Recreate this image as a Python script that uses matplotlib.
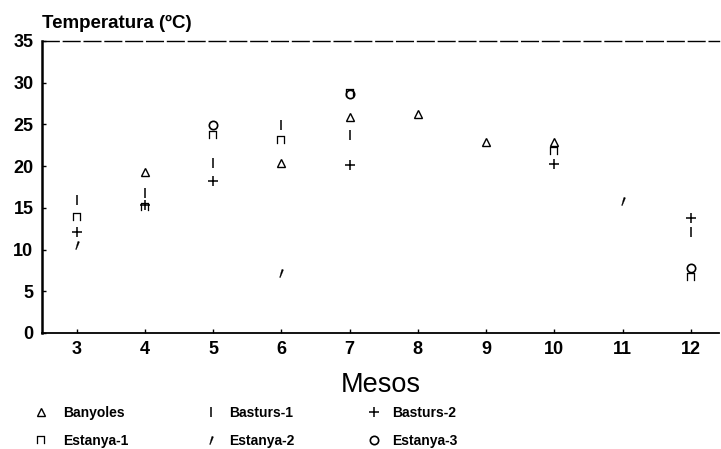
import matplotlib
matplotlib.use("Agg")
import matplotlib.pyplot as plt

plt.rcParams['font.family'] = ['Liberation Sans', 'DejaVu Sans']

# Data (months, temperature ºC)
ban_m = [4, 6, 7, 8, 9, 10]
ban_v = [19.3, 20.4, 25.9, 26.3, 22.9, 22.9]
bas1_m = [3, 4, 5, 6, 7, 12]
bas1_v = [15.9, 16.8, 20.4, 24.9, 23.7, 12.1]
bas2_m = [3, 4, 5, 7, 10, 12]
bas2_v = [12.1, 15.3, 18.2, 20.1, 20.3, 13.8]
est1_m = [3, 4, 5, 6, 7, 10, 12]
est1_v = [13.9, 15.1, 23.7, 23.1, 28.8, 21.8, 6.7]
est2_m = [3, 6, 11]
est2_v = [10.6, 7.2, 15.8]
est3_m = [5, 7, 12]
est3_v = [24.9, 28.6, 7.8]

xticks = [3, 4, 5, 6, 7, 8, 9, 10, 11, 12]
yticks = [0, 5, 10, 15, 20, 25, 30, 35]

fig = plt.figure(figsize=(7.21, 4.49), dpi=100)
ax = fig.add_axes([0.058, 0.2584, 0.939, 0.6503])

kw = dict(linestyle='none', color='black')
h1, = ax.plot(ban_m, ban_v, marker='^', fillstyle='none', markersize=6,
              markeredgewidth=1.0, label='Banyoles', **kw)
h2, = ax.plot(bas1_m, bas1_v, marker='|', markersize=7, markeredgewidth=1.1,
              label='Basturs-1', **kw)
h3, = ax.plot(bas2_m, bas2_v, marker='+', markersize=7, markeredgewidth=1.1,
              label='Basturs-2', **kw)
h4, = ax.plot(est1_m, est1_v, marker=r'$\sqcap$', markersize=6, markeredgewidth=0.2,
              label='Estanya-1', **kw)
h5, = ax.plot(est2_m, est2_v, marker=r"$'$", markersize=6, markeredgewidth=0.2,
              label='Estanya-2', **kw)
h6, = ax.plot(est3_m, est3_v, marker='o', fillstyle='none', markersize=6,
              markeredgewidth=1.2, label='Estanya-3', **kw)

ax.set_xlim(2.49, 12.41)
ax.set_ylim(0, 35)
ax.set_xticks(xticks)
ax.set_yticks(yticks)
ax.tick_params(direction='in', length=3, width=1, labelsize=13, pad=6)
for lab in ax.get_xticklabels() + ax.get_yticklabels():
    lab.set_fontweight('bold')

ax.spines['right'].set_visible(False)
ax.spines['left'].set_linewidth(1.8)
ax.spines['bottom'].set_linewidth(1.3)
ax.spines['top'].set_linewidth(1.0)
ax.spines['top'].set_linestyle((0, (12, 3)))

ax.set_xlabel('Mesos', fontsize=19.5, labelpad=10)
fig.text(0.058, 0.948, 'Temperatura (ºC)', fontsize=13.5, fontweight='bold',
         ha='left', va='center')

groups = [([h1, h4], 0.035, 1.0), ([h2, h5], 0.272, 0.7), ([h3, h6], 0.497, 0.7)]
for handles, x0, pad in groups:
    leg = fig.legend(handles=handles, loc='upper left', bbox_to_anchor=(x0, 0.112),
                     frameon=False, ncol=1, fontsize=10, handlelength=1.2,
                     handletextpad=pad, labelspacing=1.0, borderpad=0)
    for t in leg.get_texts():
        t.set_fontweight('bold')

fig.savefig('out.png', dpi=100)
